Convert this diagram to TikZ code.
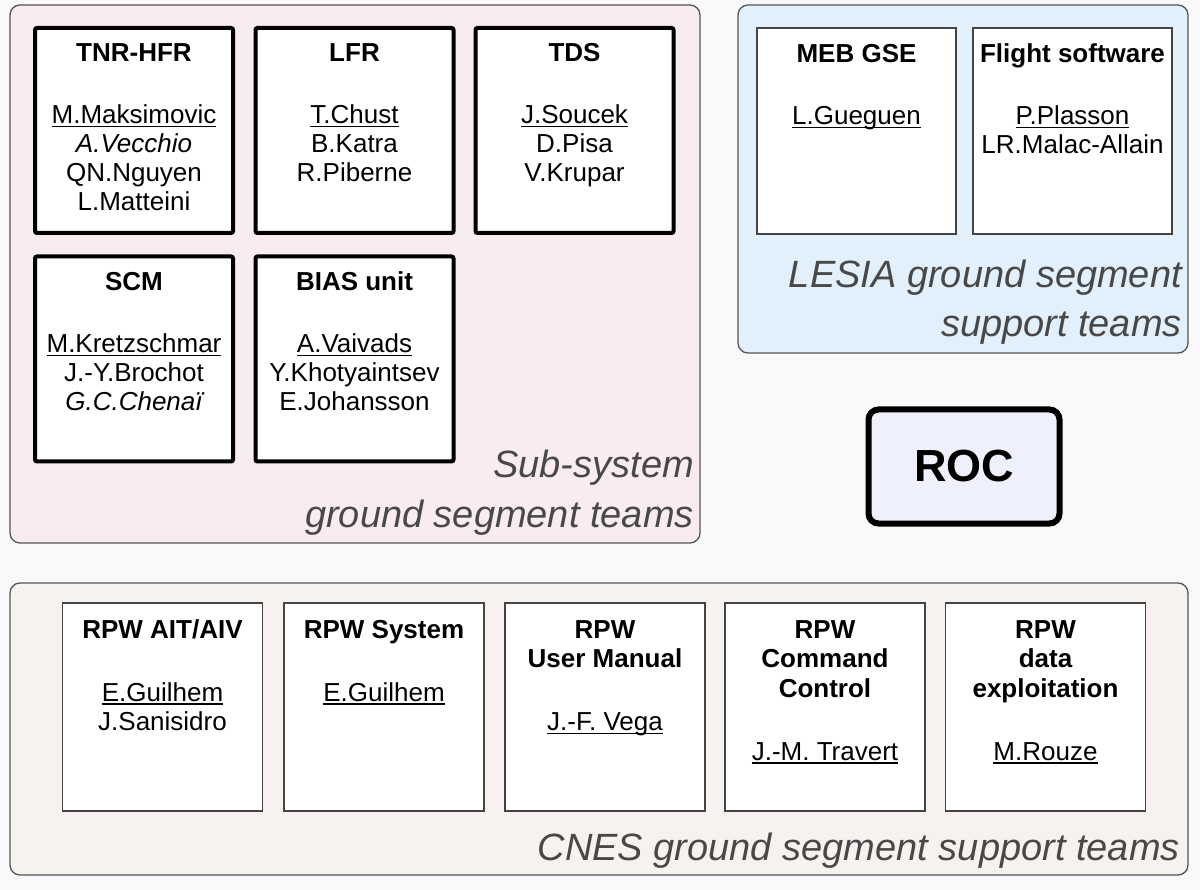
\documentclass[tikz,border=0pt]{standalone}
\usepackage{fontspec}
\setmainfont{Liberation Sans}
\definecolor{bgc}{HTML}{F9F9FC}
\definecolor{pinkc}{HTML}{F8ECEF}
\definecolor{bluec}{HTML}{E2F0FB}
\definecolor{beigec}{HTML}{F7F2EF}
\definecolor{rocc}{HTML}{EEF0FB}
\definecolor{edgec}{HTML}{555555}
\definecolor{thinc}{HTML}{444444}
\definecolor{labc}{HTML}{484848}
\newcommand\undl[1]{\setbox0=\hbox{#1}\makebox[0pt][l]{\rule[-3.5pt]{\wd0}{1.3pt}}\box0}
\tikzset{
  grp/.style={draw=edgec, line width=1.3pt, rounded corners=10pt, inner sep=0pt, outer sep=0pt},
  subbox/.style={draw=black, line width=4pt, fill=white, rounded corners=2pt, minimum width=198pt, minimum height=205pt, inner sep=0pt, outer sep=0pt},
  supbox/.style={draw=thinc, line width=1.5pt, fill=white, inner sep=0pt, outer sep=0pt},
  ttl/.style={font=\fontsize{26}{30}\selectfont\bfseries, anchor=base, inner sep=0pt},
  nm/.style={font=\fontsize{26}{30}\selectfont, anchor=base, inner sep=0pt},
  grl/.style={font=\fontsize{38}{46}\selectfont\itshape, anchor=base east, inner sep=0pt, text=labc},
}
\begin{document}
\begin{tikzpicture}[x=1pt,y=-1pt]
\fill[bgc] (0,0) rectangle (1200,890);
\useasboundingbox (0,0) rectangle (1200,890);

% group boxes
\node[grp, fill=pinkc, minimum width=690pt, minimum height=538pt] (subgrp) at (355,274) {};
\node[grp, fill=bluec, minimum width=450pt, minimum height=348pt] (lesgrp) at (963,179) {};
\node[grp, fill=beigec, minimum width=1178pt, minimum height=292pt] (cnesgrp) at (599,729) {};

% ROC
\node[draw=black, line width=6pt, rounded corners=10pt, fill=rocc, minimum width=191pt, minimum height=114pt, font=\fontsize{45}{50}\selectfont\bfseries] (roc) at (964,466.5) {ROC};

% sub-system boxes
\node[subbox] (tnr) at (134,130.5) {};
\node[subbox] (lfr) at (354.5,130.5) {};
\node[subbox] (tds) at (574.5,130.5) {};
\node[subbox] (scm) at (134,359) {};
\node[subbox] (bias) at (354.5,359) {};

\node[ttl] (tnr-t) at (134,62) {TNR-HFR};
\node[nm] (tnr-1) at (134,124) {\undl{M.Maksimovic}};
\node[nm] (tnr-2) at (134,153) {\itshape A.Vecchio};
\node[nm] (tnr-3) at (134,182) {QN.Nguyen};
\node[nm] (tnr-4) at (134,211) {L.Matteini};

\node[ttl] (lfr-t) at (354.5,62) {LFR};
\node[nm] (lfr-1) at (354.5,124) {\undl{T.Chust}};
\node[nm] (lfr-2) at (354.5,153) {B.Katra};
\node[nm] (lfr-3) at (354.5,182) {R.Piberne};

\node[ttl] (tds-t) at (574.5,62) {TDS};
\node[nm] (tds-1) at (574.5,124) {\undl{J.Soucek}};
\node[nm] (tds-2) at (574.5,153) {D.Pisa};
\node[nm] (tds-3) at (574.5,182) {V.Krupar};

\node[ttl] (scm-t) at (134,291) {SCM};
\node[nm] (scm-1) at (134,353) {\undl{M.Kretzschmar}};
\node[nm] (scm-2) at (134,382) {J.-Y.Brochot};
\node[nm] (scm-3) at (134,411) {\itshape G.C.Chenaï};

\node[ttl] (bias-t) at (354.5,291) {BIAS unit};
\node[nm] (bias-1) at (354.5,353) {\undl{A.Vaivads}};
\node[nm] (bias-2) at (354.5,382) {Y.Khotyaintsev};
\node[nm] (bias-3) at (354.5,411) {E.Johansson};

\node[grl] (sublab1) at (694,478) {Sub-system};
\node[grl] (sublab2) at (694,527) {ground segment teams};

% LESIA boxes
\node[supbox, minimum width=199pt, minimum height=206pt] (meb) at (856.5,131) {};
\node[supbox, minimum width=199pt, minimum height=206pt] (fsw) at (1072.5,131) {};
\node[ttl] (meb-t) at (856.5,63) {MEB GSE};
\node[nm] (meb-1) at (856.5,125) {\undl{L.Gueguen}};
\node[ttl] (fsw-t) at (1072.5,63) {Flight software};
\node[nm] (fsw-1) at (1072.5,125) {\undl{P.Plasson}};
\node[nm] (fsw-2) at (1072.5,154) {LR.Malac-Allain};

\node[grl] (leslab1) at (1182,288) {LESIA ground segment};
\node[grl] (leslab2) at (1182,337) {support teams};

% CNES boxes
\node[supbox, minimum width=200pt, minimum height=208pt] (ait) at (162.5,707) {};
\node[supbox, minimum width=200pt, minimum height=208pt] (sys) at (384,707) {};
\node[supbox, minimum width=200pt, minimum height=208pt] (uman) at (605,707) {};
\node[supbox, minimum width=200pt, minimum height=208pt] (cmd) at (825,707) {};
\node[supbox, minimum width=200pt, minimum height=208pt] (dex) at (1045.5,707) {};

\node[ttl] (ait-t) at (162.5,638) {RPW AIT/AIV};
\node[nm] (ait-1) at (162.5,701) {\undl{E.Guilhem}};
\node[nm] (ait-2) at (162.5,730.5) {J.Sanisidro};

\node[ttl] (sys-t) at (384,638) {RPW System};
\node[nm] (sys-1) at (384,701) {\undl{E.Guilhem}};

\node[ttl] (uman-t) at (605,638) {RPW};
\node[ttl] (uman-t2) at (605,667.5) {User Manual};
\node[nm] (uman-1) at (605,730.5) {\undl{J.-F. Vega}};

\node[ttl] (cmd-t) at (825,638) {RPW};
\node[ttl] (cmd-t2) at (825,667.5) {Command};
\node[ttl] (cmd-t3) at (825,697) {Control};
\node[nm] (cmd-1) at (825,760) {\undl{J.-M. Travert}};

\node[ttl] (dex-t) at (1045.5,638) {RPW};
\node[ttl] (dex-t2) at (1045.5,667.5) {data};
\node[ttl] (dex-t3) at (1045.5,697) {exploitation};
\node[nm] (dex-1) at (1045.5,760) {\undl{M.Rouze}};

\node[grl] (cneslab) at (1180,860) {CNES ground segment support teams};
\end{tikzpicture}
\end{document}
